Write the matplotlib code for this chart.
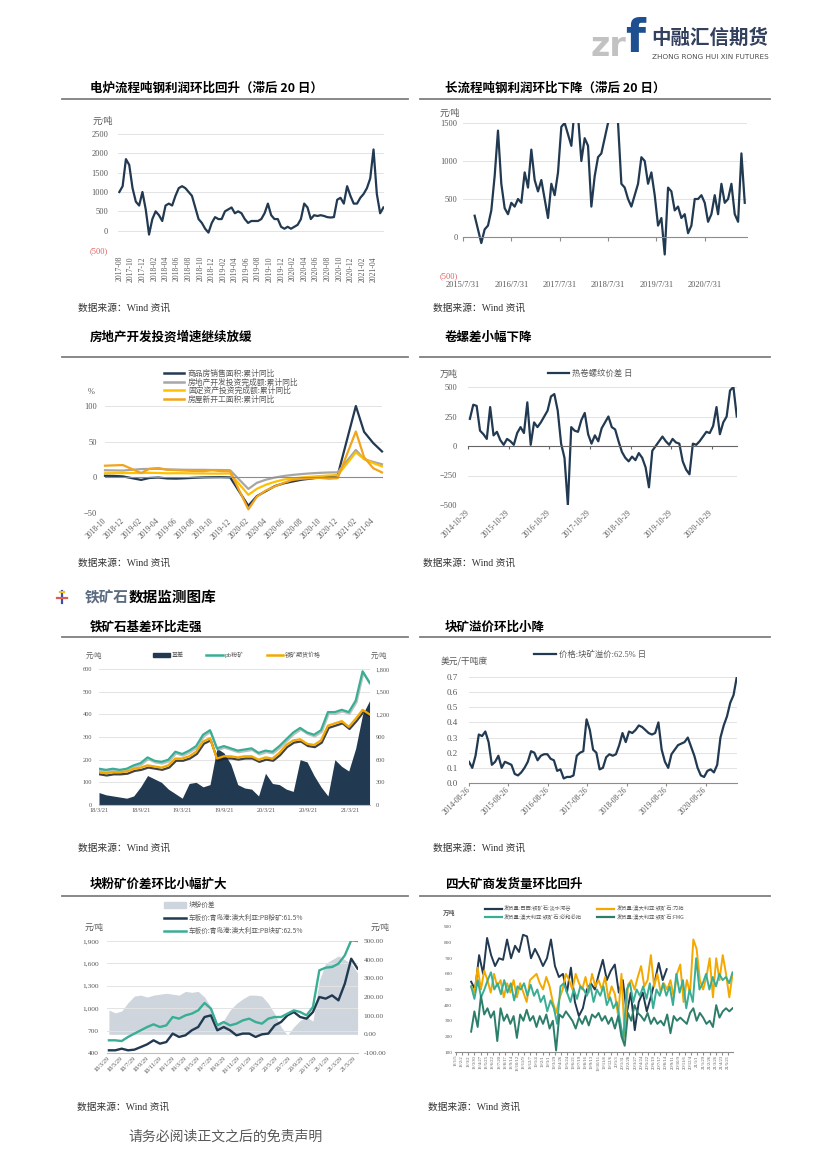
import pandas as pd
import matplotlib
matplotlib.use('Agg')
import matplotlib.pyplot as plt
import matplotlib.dates as mdates
import matplotlib.patheffects as pe
from matplotlib.lines import Line2D
from matplotlib.patches import Patch
from matplotlib.transforms import offset_copy

plt.rcParams['font.family'] = ['Liberation Serif', 'Noto Sans CJK SC', 'DejaVu Sans']
CJK = ['Noto Sans CJK SC', 'DejaVu Sans']

# ---------------- data ----------------
# 1. electric furnace profit, 元/吨 (2017-08 .. 2021-05)
eaf_profit = [1000, 1150, 1850, 1700, 1100, 750, 650, 1000, 550, -100,
              300, 500, 400, 250, 650, 700, 650, 900, 1100, 1150,
              1100, 1000, 900, 600, 300, 200, 50, -50, 200, 350,
              300, 300, 500, 550, 600, 450, 500, 450, 300, 200,
              250, 250, 250, 300, 450, 700, 400, 300, 300, 100,
              50, 100, 50, 100, 150, 300, 700, 600, 300, 400,
              380, 400, 380, 350, 340, 350, 800, 850, 700, 1150,
              900, 700, 700, 850, 950, 1100, 1350, 2100, 950, 450, 600]
eaf_yticks = [-500, 0, 500, 1000, 1500, 2000, 2500]
eaf_ylabels = ['(500)', '0', '500', '1000', '1500', '2000', '2500']

# 2. blast furnace profit, 元/吨 (2015-10 .. 2021-05)
bf_profit = [280, 100, -80, 100, 150, 350, 800, 1400, 700, 380,
             300, 450, 400, 500, 450, 850, 650, 1150, 750, 600,
             750, 500, 250, 700, 550, 850, 1450, 1500, 1350, 1200,
             1700, 1600, 1000, 1300, 1200, 400, 800, 1050, 1100, 1300,
             1500, 1700, 1700, 1500, 700, 650, 500, 400, 550, 700,
             1050, 1000, 700, 850, 550, 150, 250, -230, 650, 600,
             350, 400, 250, 300, 50, 150, 500, 500, 550, 450,
             200, 300, 550, 300, 700, 450, 500, 700, 300, 200, 1100, 450]
bf_yticks = [-500, 0, 500, 1000, 1500]
bf_ylabels = ['(500)', '0', '500', '1000', '1500']
bf_xlabels = ['2015/7/31', '2016/7/31', '2017/7/31', '2018/7/31', '2019/7/31', '2020/7/31']

# 3. real estate, cumulative yoy %
re_months = ['2018-10', '2018-11', '2018-12', '2019-02', '2019-03', '2019-04', '2019-05',
             '2019-06', '2019-07', '2019-08', '2019-09', '2019-10', '2019-11', '2019-12',
             '2020-02', '2020-03', '2020-04', '2020-05', '2020-06', '2020-07', '2020-08',
             '2020-09', '2020-10', '2020-11', '2020-12', '2021-02', '2021-03', '2021-04', '2021-05']
re_sales = [2.2, 2.0, 1.3, -3.6, -0.9, -0.3, -1.6, -1.8, -1.3, -0.6, -0.1, 0.1, 0.2, -0.1,
            -39.9, -26.3, -19.3, -12.3, -8.4, -5.8, -3.3, -1.8, 0.0, 1.3, 2.6, 100.0, 63.8, 48.1, 36.3]
re_invest = [9.9, 9.7, 9.5, 11.6, 11.8, 11.9, 11.2, 10.9, 10.6, 10.5, 10.5, 10.3, 10.2, 9.9,
             -16.3, -7.7, -3.3, -0.3, 1.9, 3.4, 4.6, 5.6, 6.3, 6.8, 7.0, 38.3, 25.6, 21.6, 18.3]
fa_invest = [5.7, 5.9, 5.9, 6.1, 6.3, 6.1, 5.6, 5.8, 5.7, 5.5, 5.4, 5.2, 5.2, 5.4,
             -24.5, -16.1, -10.3, -6.3, -3.1, -1.6, -0.3, 0.8, 1.8, 2.6, 2.9, 35.0, 25.6, 19.9, 15.4]
re_starts = [16.3, 16.8, 17.2, 6.0, 11.9, 13.1, 10.5, 10.1, 9.5, 8.9, 8.6, 10.0, 8.6, 8.5,
             -44.9, -27.2, -18.4, -12.8, -7.6, -3.6, -2.0, -1.4, -0.7, -2.0, -1.2, 64.3, 28.2, 12.8, 6.9]
re_names = ['商品房销售面积:累计同比', '房地产开发投资完成额:累计同比',
            '固定资产投资完成额:累计同比', '房屋新开工面积:累计同比']

# 4. HRC - rebar spread (2014-11 .. 2021-06)
coil_spread = [230, 350,
               340, 130, 100, 60, 330, 90, 120, 50, 10, 60, 40, 10,
               110, 160, 110, 370, 10, 200, 160, 200, 250, 300, 420, 440,
               300, 20, -100, -500, 160, 130, 120, 220, 280, 100, 20, 90,
               40, 150, 200, 250, 160, 140, 40, -50, -100, -130, -90, -120,
               -60, -100, -180, -350, -40, 0, 40, 80, 40, 10, 60, 30,
               20, -130, -200, -240, 20, 10, 40, 80, 120, 110, 170, 330,
               100, 200, 250, 470, 500, 250]
coil_yticks = [-500, -250, 0, 250, 500]

# 5. iron ore basis (左轴) and prices (右轴), 2018-03 .. 2021-06
ore_basis = [55, 45, 40, 35, 30, 40, 80, 130, 115, 100,
             70, 50, 30, 95, 100, 80, 90, 250, 230, 180, 90, 75,
             70, 40, 140, 95, 90, 70, 60, 200, 190, 130, 80, 40,
             200, 170, 150, 250, 400, 460]
pb_fines = [480, 465, 480, 465, 480, 525, 555, 630, 585, 570,
            600, 705, 675, 720, 780, 930, 990, 750, 780, 750, 720, 735,
            750, 690, 720, 705, 780, 870, 960, 1020, 960, 930, 990, 1230,
            1230, 1260, 1230, 1380, 1770, 1620]
ore_futures = [435, 420, 435, 435, 444, 480, 495, 525, 510, 495,
               525, 615, 615, 645, 705, 840, 885, 615, 645, 645, 630, 645,
               645, 600, 630, 615, 690, 795, 855, 870, 810, 795, 855, 1050,
               1080, 1110, 1035, 1140, 1260, 1200]
basis_xlabels = ['18/3/21', '18/9/21', '19/3/21', '19/9/21', '20/3/21', '20/9/21', '21/3/21']

# 6. lump premium, 美元/干吨度 (2014-08 .. 2021-06)
lump_premium = [0.14, 0.10, 0.18, 0.32, 0.31,
                0.34, 0.27, 0.12, 0.14, 0.18, 0.10, 0.14, 0.13, 0.12, 0.06, 0.05, 0.07,
                0.10, 0.14, 0.21, 0.20, 0.15, 0.18, 0.19, 0.19, 0.16, 0.15, 0.08, 0.09,
                0.03, 0.04, 0.04, 0.05, 0.18, 0.20, 0.21, 0.42, 0.35, 0.22, 0.20, 0.09,
                0.10, 0.17, 0.19, 0.18, 0.19, 0.25, 0.33, 0.27, 0.34, 0.33, 0.35, 0.38,
                0.37, 0.35, 0.33, 0.32, 0.33, 0.40, 0.22, 0.14, 0.10, 0.19, 0.22, 0.25,
                0.26, 0.27, 0.30, 0.24, 0.18, 0.10, 0.05, 0.04, 0.08, 0.09, 0.07, 0.12,
                0.30, 0.38, 0.44, 0.53, 0.58, 0.70]
lump_xlabels = ['2014-08-26', '2015-08-26', '2016-08-26', '2017-08-26',
                '2018-08-26', '2019-08-26', '2020-08-26']

# 7. lump / fines spread (右轴) and Qingdao prices (左轴), 2018-03 .. 2021-06
lf_spread = [130, 115, 125, 170, 205, 210, 200, 210, 215, 220,
             215, 210, 230, 225, 230, 200, 146, 60, 75, 130, 165, 190,
             210, 210, 205, 165, 110, 40, -5, 40, 75, 95, 70, 290,
             380, 400, 420, 400, 380, 330]
pb_fines_qd = [436, 436, 458, 436, 445, 480, 516, 570, 525, 547,
               660, 615, 637, 704, 748, 882, 904, 704, 748, 704, 637, 660,
               660, 615, 650, 660, 770, 815, 904, 949, 882, 860, 949, 1150,
               1128, 1172, 1105, 1329, 1663, 1530]
pb_lump_qd = [570, 570, 560, 615, 660, 704, 748, 784, 748, 770,
              882, 860, 904, 927, 971, 1070, 994, 770, 815, 770, 793, 837,
              860, 815, 793, 860, 882, 882, 927, 971, 949, 904, 1016, 1507,
              1543, 1552, 1596, 1708, 1909, 1900]
lf_names = ['块粉价差', '车板价:青岛港:澳大利亚:PB粉矿:61.5%', '车板价:青岛港:澳大利亚:PB块矿:62.5%']

# 8. big four shipments, 万吨
ship_vale = [550, 500, 720, 600, 830, 720, 650, 700, 690, 820, 700, 780, 740, 850, 840, 700,
             760, 710, 650, 700, 820, 650, 580, 600, 480, 640, 420, 330, 380, 500, 540, 500,
             600, 690, 560, 620, 660, 480, 560, 350, 480, 240, 420, 480, 360, 450, 550, 670,
             560, 630]
ship_rio = [520, 480, 640, 500, 620, 560, 480, 600, 520, 560, 450, 540, 480, 560, 450, 540,
            480, 420, 560, 580, 600, 540, 500, 580, 520, 420, 350, 440, 500, 600, 560, 500,
            600, 540, 500, 580, 480, 600, 520, 560, 500, 580, 440, 520, 470, 330, 600, 200,
            530, 560, 500, 580, 650, 520, 560, 720, 520, 600, 480, 540, 500, 560, 450, 600,
            660, 420, 560, 480, 820, 760, 560, 500, 580, 700, 450, 700, 560, 720, 600, 450, 600]
ship_bhp = [520, 440, 560, 450, 500, 560, 610, 500, 540, 470, 560, 480, 540, 430, 520, 500,
            540, 460, 530, 460, 500, 420, 460, 360, 430, 380, 280, 520, 540, 480, 420, 500,
            440, 520, 500, 460, 530, 420, 500, 460, 520, 400, 450, 380, 420, 300, 180, 500,
            540, 420, 500, 460, 520, 440, 540, 380, 500, 460, 540, 460, 520, 400, 600, 480,
            560, 380, 500, 420, 700, 500, 540, 600, 500, 580, 520, 600, 560, 580, 540, 610]
ship_fmg = [230, 360, 260, 460, 340, 380, 320, 360, 170, 380, 300, 340, 280, 330, 190, 340,
            300, 370, 300, 330, 260, 330, 280, 340, 250, 300, 110, 340, 320, 360, 330, 300,
            250, 320, 280, 330, 270, 340, 320, 350, 300, 330, 280, 320, 250, 330, 200, 140,
            350, 300, 400, 350, 330, 300, 350, 280, 320, 280, 300, 270, 340, 220, 330, 300,
            320, 300, 280, 350, 380, 300, 350, 320, 280, 300, 260, 400, 320, 360, 380, 360, 380]
ship_names = ['发货量:巴西:铁矿石:淡水河谷', '发货量:澳大利亚:铁矿石:必和必拓',
              '发货量:澳大利亚:铁矿石:力拓', '发货量:澳大利亚:铁矿石:FMG']

# ---------------- page ----------------
W, H = 826, 1169
fig = plt.figure(figsize=(W / 100, H / 100), dpi=100)

NAVY = '#213951'
TEAL = '#3aae95'
ORANGE = '#f4a900'
TXT = '#595959'
GRID = '#e3e3e3'


def axes_px(l, t, r, b):
    return fig.add_axes([l / W, 1 - b / H, (r - l) / W, (b - t) / H])


def put(x, y, s, size=7, **kw):
    kw.setdefault('va', 'center')
    fig.text(x / W, 1 - y / H, s, fontsize=size, **kw)


def rule(x0, x1, y):
    fig.add_artist(Line2D([x0 / W, x1 / W], [1 - y / H] * 2, color='#7f7f7f', lw=1.3))


def base_style(ax, size=6, pad=4):
    for s in ax.spines.values():
        s.set_visible(False)
    ax.tick_params(length=0, labelsize=size, labelcolor=TXT, pad=pad)
    ax.grid(axis='y', color=GRID, lw=0.7)
    ax.set_axisbelow(True)


def date_labels(ax, ticks, labels, rot=0, size=5.5, pad=4):
    ax.set_xticks(ticks)
    ax.set_xticklabels([])
    tr = offset_copy(ax.get_xaxis_transform(), fig=fig, y=-pad, units='dots')
    ha, va = ('center', 'top') if rot == 0 else ('right', 'center')
    for t, s in zip(ticks, labels):
        ax.text(mdates.date2num(t), 0, s, transform=tr, rotation=rot, rotation_mode='anchor',
                ha=ha, va=va, fontsize=size, color=TXT)


def title(x, y, s):
    put(x, y, s, 9, family=CJK, weight='bold', color='black')


def source(x, y):
    put(x, y, '数据来源：Wind 资讯', 7, color='#333333')


# header logo
put(591, 46, 'zr', 24, family='DejaVu Sans', weight='bold', color='#c2c2c2')
put(625, 40, 'f', 33, family='DejaVu Sans', weight='bold', color='#1d4f91')
put(651, 38, '中融汇信期货', 14, family=CJK, weight='bold', color='#33405e')
put(652, 57, 'ZHONG RONG HUI XIN FUTURES', 5.2, family='DejaVu Sans', color='#4d4d4d')

# titles and rules
title(90, 88, '电炉流程吨钢利润环比回升（滞后 20 日）')
title(445, 88, '长流程吨钢利润环比下降（滞后 20 日）')
title(90, 337, '房地产开发投资增速继续放缓')
title(445, 337, '卷螺差小幅下降')
title(90, 627, '铁矿石基差环比走强')
title(445, 627, '块矿溢价环比小降')
title(90, 884, '块粉矿价差环比小幅扩大')
title(445, 884, '四大矿商发货量环比回升')
for yy in (99, 357, 637, 896):
    rule(62, 408, yy)
    rule(420, 770, yy)

source(78, 308)
source(433, 308)
source(78, 563)
source(423, 563)
source(78, 848)
source(433, 848)
source(77, 1107)
source(428, 1107)

# section header
fig.add_artist(Line2D([62 / W] * 2, [1 - 591 / H, 1 - 603 / H], color='#3b4fa8', lw=1.6))
fig.add_artist(Line2D([57 / W, 67 / W], [1 - 598 / H] * 2, color='#e05a4f', lw=1.6))
fig.add_artist(Line2D([60 / W, 64 / W], [1 - 592 / H] * 2, color='#f0c020', lw=1.6))
put(85, 597, '铁矿石', 10.5, family=CJK, weight='bold', color='#5b6b80')
put(129, 597, '数据监测图库', 10.5, family=CJK, weight='bold', color='black')

put(128, 1137, '请务必阅读正文之后的免责声明', 10, family=CJK, color='#595959')

# ---- 1 electric furnace profit
ax = axes_px(118, 134, 384, 250)
base_style(ax, 6, 7)
d1 = pd.date_range('2017-08-01', '2021-05-22', periods=len(eaf_profit))
ax.plot(d1, eaf_profit, color=NAVY, lw=1.6)
ax.set_ylim(-500, 2500)
ax.set_yticks(eaf_yticks)
ax.set_yticklabels(eaf_ylabels)
ax.get_yticklabels()[0].set_color('#e06060')
ax.set_xlim(pd.Timestamp('2017-07-25'), pd.Timestamp('2021-05-25'))
t1 = pd.date_range('2017-08-01', '2021-04-01', freq='2MS')
date_labels(ax, t1, [t.strftime('%Y-%m') for t in t1], 90, 5.5, 6)
put(93, 121, '元/吨', 6.5, color=TXT)

# ---- 2 blast furnace profit
ax = axes_px(463, 123, 747, 275)
base_style(ax, 6, 4)
d2 = pd.date_range('2015-10-27', '2021-05-30', periods=len(bf_profit))
ax.plot(d2, bf_profit, color=NAVY, lw=1.6)
ax.set_ylim(-500, 1500)
ax.set_yticks(bf_yticks)
ax.set_yticklabels(bf_ylabels)
ax.get_yticklabels()[0].set_color('#e06060')
ax.set_xlim(pd.Timestamp('2015-07-31'), pd.Timestamp('2021-06-16'))
ax.spines['bottom'].set_visible(True)
ax.spines['bottom'].set_position(('data', 0))
ax.spines['bottom'].set_color('#8c8c8c')
ax.tick_params(axis='x', length=3, color='#8c8c8c')
date_labels(ax, pd.date_range('2015-07-31', periods=6, freq=pd.DateOffset(years=1)), bf_xlabels, 0, 6, 6)
put(440, 113, '元/吨', 6.5, color=TXT)

# ---- 3 real estate
ax = axes_px(105, 406, 382, 513)
base_style(ax, 6, 6)
d3 = pd.to_datetime(re_months)
for vals, col in [(re_sales, NAVY), (re_invest, '#a6a6a6'),
                  (fa_invest, '#ffc000'), (re_starts, '#f2a41c')]:
    ax.plot(d3, vals, color=col, lw=1.6, clip_on=False)
ax.set_ylim(-50, 100)
ax.set_yticks([-50, 0, 50, 100])
ax.set_xlim(pd.Timestamp('2018-10-01'), pd.Timestamp('2021-05-01'))
ax.spines['bottom'].set_visible(True)
ax.spines['bottom'].set_position(('data', 0))
ax.spines['bottom'].set_color('#8c8c8c')
t3 = pd.date_range('2018-10-01', '2021-04-01', freq='2MS')
date_labels(ax, t3, [t.strftime('%Y-%m') for t in t3], 45, 5.5, 7)
fig.legend(handles=[Line2D([], [], color=c, lw=1.8) for c in (NAVY, '#a6a6a6', '#ffc000', '#f2a41c')],
           labels=re_names, loc='upper left', bbox_to_anchor=(160 / W, 1 - 366 / H),
           bbox_transform=fig.transFigure, frameon=False, prop={'family': CJK, 'size': 5.6},
           labelcolor=TXT, handlelength=2.6, handletextpad=0.5, labelspacing=0.05, borderpad=0)
put(88, 392, '%', 6, color=TXT)

# ---- 4 HRC - rebar spread
ax = axes_px(468, 387, 737, 505)
base_style(ax, 6, 8)
d4 = pd.date_range('2014-11-15', '2021-06-10', periods=len(coil_spread))
ax.plot(d4, coil_spread, color=NAVY, lw=1.6, label='热卷螺纹价差 日')
ax.set_ylim(-500, 500)
ax.set_yticks(coil_yticks)
ax.set_xlim(pd.Timestamp('2014-10-29'), pd.Timestamp('2021-06-12'))
ax.spines['bottom'].set_visible(True)
ax.spines['bottom'].set_position(('data', 0))
ax.spines['bottom'].set_color('#666666')
ax.tick_params(axis='x', length=2.5, color='#666666')
t4 = pd.date_range('2014-10-29', periods=7, freq=pd.DateOffset(years=1))
date_labels(ax, t4, [t.strftime('%Y-%m-%d') for t in t4], 45, 5.5, 6)
h, l = ax.get_legend_handles_labels()
fig.legend(h, l, loc='center', bbox_to_anchor=(590 / W, 1 - 373 / H), bbox_transform=fig.transFigure,
           frameon=False, prop={'family': CJK, 'size': 6}, labelcolor=TXT,
           handlelength=2.6, handletextpad=0.3, borderpad=0)
put(440, 374, '万吨', 6.5, family=CJK, color=TXT)

# ---- 5 iron ore basis
ax = axes_px(99, 669, 370, 805)
base_style(ax, 4.6, 5)
d5 = pd.date_range('2018-03-21', '2021-06-15', periods=len(ore_basis))
ax.fill_between(d5, 0, ore_basis, color=NAVY, lw=0)
ax.set_ylim(0, 600)
ax.set_yticks(range(0, 601, 100))
ax.spines['bottom'].set_visible(True)
ax.spines['bottom'].set_color('#bfbfbf')
ax2 = ax.twinx()
for s in ax2.spines.values():
    s.set_visible(False)
ax2.plot(d5, pb_fines, color=TEAL, lw=1.6,
         path_effects=[pe.SimpleLineShadow(offset=(0.6, -1.2), shadow_color='#8f9c98', alpha=0.6), pe.Normal()])
ax2.plot(d5, ore_futures, color=ORANGE, lw=1.6,
         path_effects=[pe.SimpleLineShadow(offset=(0.6, -1.6), shadow_color='#222222', alpha=0.85), pe.Normal()])
ax2.set_ylim(0, 1800)
ax2.set_yticks(range(0, 1801, 300))
ax2.set_yticklabels([f'{v:,}' for v in range(0, 1801, 300)])
ax2.tick_params(length=0, labelsize=4.6, labelcolor=TXT, pad=4)
ax.set_xlim(pd.Timestamp('2018-03-21'), pd.Timestamp('2021-06-17'))
t5 = pd.date_range('2018-03-21', periods=7, freq=pd.DateOffset(months=6))
date_labels(ax, t5, basis_xlabels, 0, 4.6, 3)
fig.legend(handles=[Patch(color=NAVY), Line2D([], [], color=TEAL, lw=1.8), Line2D([], [], color=ORANGE, lw=1.8)],
           labels=['基差', 'pb粉矿', '铁矿期货价格'], loc='center', ncol=3,
           bbox_to_anchor=(237 / W, 1 - 655 / H), bbox_transform=fig.transFigure, frameon=False,
           prop={'family': CJK, 'size': 4.3}, labelcolor=TXT, handlelength=2.8, handleheight=0.6,
           handletextpad=0.3, columnspacing=3.8, borderpad=0)
put(86, 655, '元/吨', 5.2, color=TXT)
put(371, 655, '元/吨', 5.2, color=TXT)

# ---- 6 lump premium
ax = axes_px(469, 677, 737, 783)
base_style(ax, 6.5, 8)
d6 = pd.date_range('2014-08-26', '2021-06-10', periods=len(lump_premium))
ax.plot(d6, lump_premium, color=NAVY, lw=1.6, label='价格:块矿溢价:62.5% 日')
ax.set_ylim(0, 0.7)
ax.set_yticks([i / 10 for i in range(8)])
ax.set_yticklabels([f'{i / 10:.1f}' for i in range(8)])
ax.set_xlim(pd.Timestamp('2014-08-26'), pd.Timestamp('2021-06-12'))
ax.spines['bottom'].set_visible(True)
ax.spines['bottom'].set_color('#8c8c8c')
ax.tick_params(axis='x', length=2.5, color='#8c8c8c')
t6 = pd.date_range('2014-08-26', periods=7, freq=pd.DateOffset(years=1))
date_labels(ax, t6, lump_xlabels, 45, 5.5, 5)
h, l = ax.get_legend_handles_labels()
fig.legend(h, l, loc='center', bbox_to_anchor=(590 / W, 1 - 655 / H), bbox_transform=fig.transFigure,
           frameon=False, prop={'family': ['Liberation Serif', 'Noto Sans CJK SC'], 'size': 6},
           labelcolor=TXT, handlelength=2.6, handletextpad=0.3, borderpad=0)
put(441, 661, '美元/干吨度', 6.3, family=CJK, color=TXT)

# ---- 7 lump / fines spread
ax = axes_px(107, 941, 358, 1053)
base_style(ax, 5.3, 6)
ax2 = ax.twinx()
for s in ax2.spines.values():
    s.set_visible(False)
d7 = pd.date_range('2018-03-29', '2021-06-10', periods=len(lf_spread))
ax2.fill_between(d7, 0, lf_spread, color='#cfd5dc', lw=0)
ax2.set_ylim(-100, 500)
ax2.set_yticks(range(-100, 501, 100))
ax2.set_yticklabels([f'{v:.2f}' for v in range(-100, 501, 100)])
ax2.tick_params(length=0, labelsize=5.3, labelcolor=TXT, pad=4)
ax.set_zorder(ax2.get_zorder() + 1)
ax.patch.set_visible(False)
ax.plot(d7, pb_fines_qd, color=NAVY, lw=1.7)
ax.plot(d7, pb_lump_qd, color=TEAL, lw=1.7)
ax.set_ylim(400, 1900)
ax.set_yticks(range(400, 1901, 300))
ax.set_yticklabels([f'{v:,}' for v in range(400, 1901, 300)])
ax.spines['bottom'].set_visible(True)
ax.spines['bottom'].set_color('#bfbfbf')
ax.set_xlim(pd.Timestamp('2018-03-20'), pd.Timestamp('2021-06-12'))
t7 = pd.date_range('2018-03-29', periods=20, freq=pd.DateOffset(months=2))
date_labels(ax, t7, [f'{t.year % 100}/{t.month}/{t.day}' for t in t7], 45, 4.6, 4)
fig.legend(handles=[Patch(color='#cfd5dc'), Line2D([], [], color=NAVY, lw=1.8), Line2D([], [], color=TEAL, lw=1.8)],
           labels=lf_names, loc='upper left', bbox_to_anchor=(161 / W, 1 - 898 / H),
           bbox_transform=fig.transFigure, frameon=False, prop={'family': CJK, 'size': 4.8},
           labelcolor=TXT, handlelength=3.2, handleheight=0.8, handletextpad=0.4,
           labelspacing=0.75, borderpad=0)
put(85, 928, '元/吨', 6, color=TXT)
put(371, 928, '元/吨', 6, color=TXT)

# ---- 8 big four shipments
ax = axes_px(455, 927, 733, 1052)
base_style(ax, 3.8, 2)
ax.grid(False)
ax.plot(pd.date_range('2018-03-15', '2020-08-16', periods=len(ship_vale)), ship_vale, color=NAVY, lw=1.4)
ax.plot(pd.date_range('2018-03-15', '2021-06-10', periods=len(ship_rio)), ship_rio, color=ORANGE, lw=1.4)
ax.plot(pd.date_range('2018-03-15', '2021-06-10', periods=len(ship_bhp)), ship_bhp, color=TEAL, lw=1.4)
ax.plot(pd.date_range('2018-03-15', '2021-06-10', periods=len(ship_fmg)), ship_fmg, color='#2d7d6b', lw=1.4)
ax.set_ylim(100, 900)
ax.set_yticks(range(100, 901, 100))
ax.set_xlim(pd.Timestamp('2018-01-01'), pd.Timestamp('2021-06-12'))
ax.spines['bottom'].set_visible(True)
ax.spines['bottom'].set_color('#8c8c8c')
ax.tick_params(axis='x', length=2, color='#8c8c8c')
t8 = pd.date_range('2018-01-05', '2021-06-10', freq='28D')
date_labels(ax, t8, [f'{t.year % 100}/{t.month}/{t.day}' for t in t8], 90, 3.3, 3)
fig.legend(handles=[Line2D([], [], color=c, lw=1.6) for c in (NAVY, TEAL, ORANGE, '#2d7d6b')],
           labels=ship_names, loc='upper left', ncol=2, bbox_to_anchor=(482 / W, 1 - 903 / H),
           bbox_transform=fig.transFigure, frameon=False, prop={'family': CJK, 'size': 3.8},
           labelcolor=TXT, handlelength=3.2, handletextpad=0.4, labelspacing=0.5,
           columnspacing=3.0, borderpad=0)
put(443, 912, '万吨', 4.5, family=CJK, weight='bold', color=TXT)

fig.savefig('out.png', dpi=100)
